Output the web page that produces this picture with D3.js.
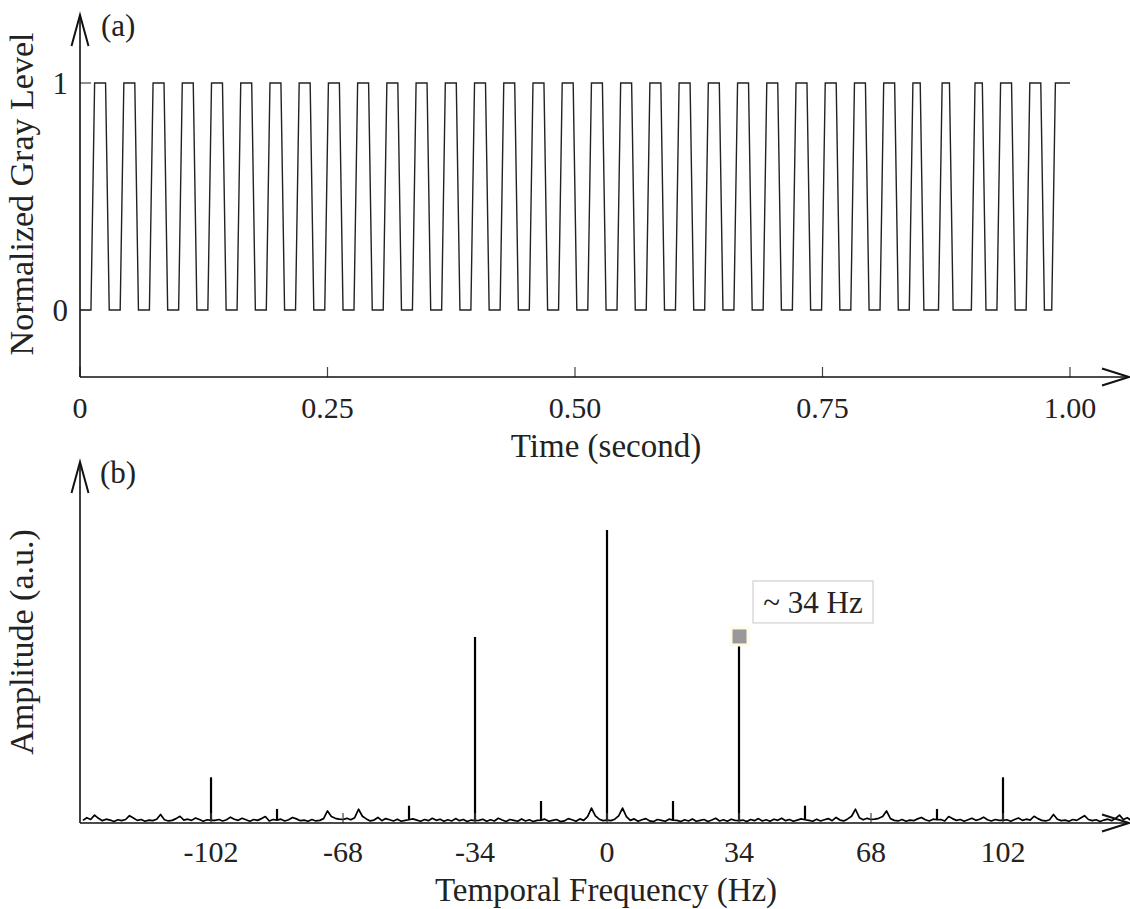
<!DOCTYPE html>
<html><head><meta charset="utf-8">
<script src="https://cdn.jsdelivr.net/npm/d3@7"></script>
<style>
html,body{margin:0;padding:0;background:#fff;}
svg{display:block;}
text{font-family:"Liberation Serif","Times New Roman",serif;fill:#222;}
</style></head>
<body>
<svg id="chart" width="1130" height="909"></svg>
<script>
// ---------- DATA ----------
// (a) sampled gray level, 272 samples spanning 0..1 s
const grayLevel = [
0,0,0,0,1,1,1,1, 0,0,0,0,1,1,1,1, 0,0,0,0,1,1,1,1, 0,0,0,0,1,1,1,1,
0,0,0,0,1,1,1,1, 0,0,0,0,1,1,1,1, 0,0,0,0,1,1,1,1, 0,0,0,0,1,1,1,1,
0,0,0,0,1,1,1,1, 0,0,0,0,1,1,1,1, 0,0,0,0,1,1,1,1, 0,0,0,0,1,1,1,1,
0,0,0,0,1,1,1,1, 0,0,0,0,1,1,1,1, 0,0,0,0,1,1,1,1, 0,0,0,0,1,1,1,1,
0,0,0,0,1,1,1,1, 0,0,0,0,1,1,1,1, 0,0,0,0,1,1,1,1, 0,0,0,0,1,1,1,1,
0,0,0,0,1,1,1,1, 0,0,0,0,1,1,1,1, 0,0,0,0,1,1,1,1, 0,0,0,0,1,1,1,1,
0,0,0,0,1,1,1,1, 0,0,0,0,1,1,1,1, 0,0,0,0,1,1,1,1, 0,0,0,0,1,1,1,1,
0,0,0,0,1,1,1,0, 0,0,0,0,1,1,1,0, 0,0,0,0,0,1,1,1, 0,0,0,0,1,1,1,1,
0,0,0,0,1,1,1,1, 0,0,0,1,1,1,1,1
];
const timeTicks = [0, 0.25, 0.5, 0.75, 1.0];
const timeTickLabels = ["0", "0.25", "0.50", "0.75", "1.00"];
const levelTicks = [0, 1];
const levelTickLabels = ["0", "1"];

// (b) amplitude spectrum: background (1 Hz bins) + narrow spectral lines
const freqNeg = d3.range(-135, 0);     // -135 .. -1 Hz
const ampNeg = [
0.9,1.8,1.2,2.7,1.6,0.8,1.3,1.0,0.5,1.1,0.8,1.2,2.5,1.7,0.9,1.2,0.6,1.0,0.8,1.3,
2.9,1.1,0.7,0.9,1.5,2.3,1.0,1.3,0.9,1.7,1.2,0.6,1.1,0.9,0.9,1.2,0.7,1.1,2.0,1.3,
0.9,1.6,1.1,0.6,1.2,0.9,1.5,2.2,0.7,1.2,1.0,1.3,0.7,1.1,1.9,1.4,0.8,1.0,0.6,1.2,
0.7,0.9,1.5,4.1,2.2,1.6,1.3,1.2,1.6,1.1,1.8,4.7,2.3,1.4,0.7,1.0,1.9,0.8,1.5,1.1,
0.7,1.3,0.6,0.9,1.1,1.4,1.0,0.6,1.2,0.8,1.6,0.9,1.3,0.6,1.1,0.7,1.5,0.8,1.2,0.5,
1.0,0.8,0.9,1.3,0.6,1.1,0.7,1.6,1.0,0.5,1.2,0.9,0.6,1.4,0.7,1.1,0.5,0.9,1.0,1.3,
0.6,0.9,1.2,0.5,0.7,1.5,1.1,0.6,1.4,0.9,2.2,5.1,2.4,1.3,0.8
];
const freqPos = d3.range(0, 136);      // 0 .. 135 Hz
const ampPos = [
1.0,0.8,1.3,2.4,5.1,2.2,0.9,1.4,0.6,1.1,1.5,0.7,0.5,1.2,0.9,0.6,1.3,1.0,0.9,0.5,
1.1,0.7,1.4,0.6,0.9,1.2,0.5,1.0,1.6,0.7,1.1,0.6,1.3,0.9,0.8,1.0,0.5,1.2,0.8,1.5,
0.7,1.1,0.6,1.3,0.9,1.6,0.8,1.2,0.6,1.0,1.4,1.1,0.9,0.6,1.3,0.7,1.1,1.5,0.8,1.9,
1.0,0.7,1.4,2.3,4.7,1.8,1.1,1.6,1.2,1.3,1.6,2.2,4.1,1.5,0.9,0.7,1.2,0.6,1.0,0.8,
1.4,1.9,1.1,0.7,1.3,1.1,1.2,0.7,2.2,1.5,0.9,1.2,0.6,1.1,1.6,0.9,1.3,2.0,1.1,0.7,
1.2,0.9,0.9,1.1,0.6,1.2,1.7,0.9,1.3,1.0,2.3,1.5,0.9,0.7,1.1,2.9,1.3,0.8,1.0,0.6,
1.2,0.9,1.7,2.5,1.2,0.8,1.1,0.5,1.0,1.3,0.8,1.6,2.7,1.2,1.8,0.9
];
const peakFreqs = [-102, -85, -51, -34, -17, 0, 17, 34, 51, 85, 102];
const peakAmps  = [15.6, 4.8, 5.9, 63.5, 7.5, 100, 7.5, 63.5, 5.9, 4.8, 15.6];
const freqTicks = [-102, -68, -34, 0, 34, 68, 102];
const freqTickLabels = ["-102", "-68", "-34", "0", "34", "68", "102"];
const markerFreq = 34;
const markerLabel = "~ 34 Hz";

// ---------- DRAW ----------
const svg = d3.select("#chart");
const axisColor = "#111";

function arrowUp(g, x, yTip){
  g.append("path").attr("d", `M${x-8.5},${yTip+31} L${x},${yTip} L${x+8.5},${yTip+31}`)
   .attr("fill","none").attr("stroke",axisColor).attr("stroke-width",2);
}
function arrowRight(g, xTip, y){
  g.append("path").attr("d", `M${xTip-27},${y-8.5} L${xTip},${y} L${xTip-27},${y+8.5}`)
   .attr("fill","none").attr("stroke",axisColor).attr("stroke-width",2);
}

// ===== Panel (a) =====
const xA = d3.scaleLinear().domain([0, 1]).range([80, 1070]);
const yA = d3.scaleLinear().domain([0, 1]).range([310, 83]);
const gA = svg.append("g");
const N = grayLevel.length;
const waveA = grayLevel.map((v,i)=>({t: i/(N-1), v}));

gA.append("path").datum(waveA)
  .attr("d", d3.line().x(d=>xA(d.t)).y(d=>yA(d.v)))
  .attr("fill","none").attr("stroke","#222").attr("stroke-width",1.4);

levelTicks.forEach((t,i)=>{
  gA.append("line").attr("x1",80).attr("x2",91).attr("y1",yA(t)).attr("y2",yA(t))
    .attr("stroke","#444").attr("stroke-width",1.2);
  gA.append("text").attr("x",68).attr("y",yA(t)+11).attr("text-anchor","end")
    .attr("font-size",31).text(levelTickLabels[i]);
});
const axisYA = 377;
timeTicks.forEach((t,i)=>{
  gA.append("line").attr("x1",xA(t)).attr("x2",xA(t)).attr("y1",axisYA).attr("y2",axisYA-10)
    .attr("stroke","#444").attr("stroke-width",1.2);
  gA.append("text").attr("x",xA(t)).attr("y",418).attr("text-anchor","middle")
    .attr("font-size",30).text(timeTickLabels[i]);
});
gA.append("line").attr("x1",80).attr("x2",80).attr("y1",16).attr("y2",axisYA)
  .attr("stroke",axisColor).attr("stroke-width",1.6);
gA.append("line").attr("x1",80).attr("x2",1128).attr("y1",axisYA).attr("y2",axisYA)
  .attr("stroke",axisColor).attr("stroke-width",1.6);
arrowUp(gA, 80, 15);
arrowRight(gA, 1129, axisYA);
gA.append("text").attr("x",101).attr("y",36).attr("font-size",31).text("(a)");
gA.append("text").attr("transform","translate(33,194) rotate(-90)")
  .attr("text-anchor","middle").attr("font-size",34).text("Normalized Gray Level");
gA.append("text").attr("x",606).attr("y",457).attr("text-anchor","middle")
  .attr("font-size",33).text("Time (second)");

// ===== Panel (b) =====
const axisYB = 823;
const xB = d3.scaleLinear().domain([-135.75, 134.2]).range([80, 1128]);
const yB = d3.scaleLinear().domain([0, 100]).range([axisYB, 530]);
const gB = svg.append("g");
const spec = freqNeg.map((f,i)=>({f, a: ampNeg[i]}))
  .concat(freqPos.map((f,i)=>({f, a: ampPos[i]})));
const bgAt = f => spec.find(d=>d.f===f).a;

svg.append("clipPath").attr("id","clipB").append("rect")
  .attr("x",80).attr("y",440).attr("width",1050).attr("height",400);

gB.append("path").datum(spec).attr("clip-path","url(#clipB)")
  .attr("d", d3.line().x(d=>xB(d.f)).y(d=>yB(d.a)))
  .attr("fill","none").attr("stroke","#000").attr("stroke-width",1.7)
  .attr("stroke-linejoin","round");

gB.selectAll("line.peak").data(peakFreqs.map((f,i)=>({f, a: peakAmps[i]})))
  .join("line").attr("class","peak")
  .attr("x1",d=>xB(d.f)).attr("x2",d=>xB(d.f))
  .attr("y1",d=>yB(bgAt(d.f))).attr("y2",d=>yB(d.a))
  .attr("stroke","#000").attr("stroke-width",2.2);

freqTicks.forEach((t,i)=>{
  gB.append("line").attr("x1",xB(t)).attr("x2",xB(t)).attr("y1",axisYB).attr("y2",axisYB-10)
    .attr("stroke","#444").attr("stroke-width",1.2);
  gB.append("text").attr("x",xB(t)).attr("y",862).attr("text-anchor","middle")
    .attr("font-size",30).text(freqTickLabels[i]);
});
gB.append("line").attr("x1",80).attr("x2",80).attr("y1",463).attr("y2",axisYB)
  .attr("stroke",axisColor).attr("stroke-width",1.6);
gB.append("line").attr("x1",80).attr("x2",1128).attr("y1",axisYB).attr("y2",axisYB)
  .attr("stroke",axisColor).attr("stroke-width",1.6);
arrowUp(gB, 80, 462);
arrowRight(gB, 1129, axisYB);
gB.append("text").attr("x",100).attr("y",483).attr("font-size",31).text("(b)");
gB.append("text").attr("transform","translate(33,642) rotate(-90)")
  .attr("text-anchor","middle").attr("font-size",34).text("Amplitude (a.u.)");
gB.append("text").attr("x",606).attr("y",901).attr("text-anchor","middle")
  .attr("font-size",33).text("Temporal Frequency (Hz)");

// data tip
const mIdx = peakFreqs.indexOf(markerFreq);
const mx = xB(markerFreq), my = yB(peakAmps[mIdx]);
gB.append("rect").attr("x",mx-8).attr("y",my-9).attr("width",17).attr("height",17)
  .attr("fill","#999").attr("stroke","#fffbe6").attr("stroke-width",3);
gB.append("rect").attr("x",mx+14).attr("y",my-56).attr("width",120).attr("height",42)
  .attr("fill","#fff").attr("stroke","#d0d0d0").attr("stroke-width",1.2);
gB.append("text").attr("x",mx+74).attr("y",my-24).attr("text-anchor","middle")
  .attr("font-size",31).text(markerLabel);
</script>
</body></html>
